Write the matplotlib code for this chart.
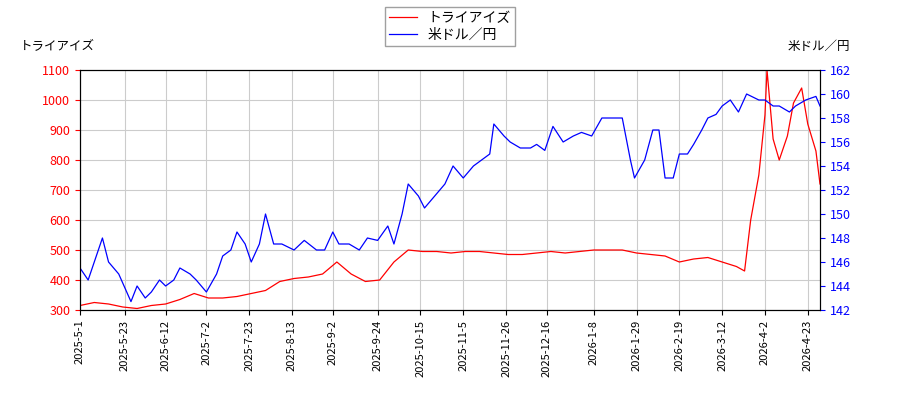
import matplotlib
matplotlib.use("Agg")
import matplotlib.pyplot as plt
import pandas as pd

plt.rcParams['font.family'] = ['Noto Sans CJK JP', 'DejaVu Sans']

red_dates = ["2025-05-01","2025-05-08","2025-05-15","2025-05-22","2025-05-29","2025-06-05","2025-06-12","2025-06-19","2025-06-26","2025-07-03","2025-07-10","2025-07-17","2025-07-24","2025-07-31","2025-08-07","2025-08-14","2025-08-21","2025-08-28","2025-09-04","2025-09-11","2025-09-18","2025-09-25","2025-10-02","2025-10-09","2025-10-16","2025-10-23","2025-10-30","2025-11-06","2025-11-13","2025-11-20","2025-11-27","2025-12-04","2025-12-11","2025-12-18","2025-12-25","2026-01-01","2026-01-08","2026-01-15","2026-01-22","2026-01-29","2026-02-05","2026-02-12","2026-02-19","2026-02-26","2026-03-05","2026-03-12","2026-03-19","2026-03-23","2026-03-26","2026-03-30","2026-04-02","2026-04-03","2026-04-06","2026-04-09","2026-04-13","2026-04-16","2026-04-20","2026-04-23","2026-04-27","2026-04-29"]
red_vals = [315,325,320,310,305,315,320,335,355,340,340,345,355,365,395,405,410,420,460,420,395,400,460,500,495,495,490,495,495,490,485,485,490,495,490,495,500,500,500,490,485,480,460,470,475,460,445,430,600,750,950,1100,870,800,880,990,1040,920,830,720]

blue_dates = ["2025-05-01","2025-05-05","2025-05-08","2025-05-12","2025-05-15","2025-05-20","2025-05-26","2025-05-29","2025-06-02","2025-06-05","2025-06-09","2025-06-12","2025-06-16","2025-06-19","2025-06-24","2025-06-27","2025-07-02","2025-07-07","2025-07-10","2025-07-14","2025-07-17","2025-07-21","2025-07-24","2025-07-28","2025-07-31","2025-08-04","2025-08-08","2025-08-14","2025-08-19","2025-08-25","2025-08-29","2025-09-02","2025-09-05","2025-09-10","2025-09-15","2025-09-19","2025-09-24","2025-09-29","2025-10-02","2025-10-06","2025-10-09","2025-10-14","2025-10-17","2025-10-22","2025-10-27","2025-10-31","2025-11-05","2025-11-10","2025-11-14","2025-11-18","2025-11-20","2025-11-25","2025-11-28","2025-12-03","2025-12-08","2025-12-11","2025-12-15","2025-12-19","2025-12-24","2025-12-29","2026-01-02","2026-01-07","2026-01-12","2026-01-16","2026-01-22","2026-01-26","2026-01-28","2026-02-02","2026-02-06","2026-02-09","2026-02-12","2026-02-16","2026-02-19","2026-02-23","2026-02-26","2026-03-02","2026-03-05","2026-03-09","2026-03-12","2026-03-16","2026-03-20","2026-03-24","2026-03-30","2026-04-02","2026-04-06","2026-04-09","2026-04-14","2026-04-17","2026-04-22","2026-04-27","2026-04-29"]
blue_vals = [145.5,144.5,146,148,146,145,142.7,144,143,143.5,144.5,144,144.5,145.5,145,144.5,143.5,145,146.5,147,148.5,147.5,146,147.5,150,147.5,147.5,147,147.8,147,147,148.5,147.5,147.5,147,148,147.8,149,147.5,150,152.5,151.5,150.5,151.5,152.5,154,153,154,154.5,155,157.5,156.5,156,155.5,155.5,155.8,155.3,157.3,156,156.5,156.8,156.5,158,158,158,154.5,153,154.5,157,157,153,153,155,155,155.8,157,158,158.3,159,159.5,158.5,160,159.5,159.5,159,159,158.5,159,159.5,159.8,159]

ticks = ["2025-05-01","2025-05-23","2025-06-12","2025-07-02","2025-07-23","2025-08-13","2025-09-02","2025-09-24","2025-10-15","2025-11-05","2025-11-26","2025-12-16","2026-01-08","2026-01-29","2026-02-19","2026-03-12","2026-04-02","2026-04-23"]
tick_labels = ["2025-5-1","2025-5-23","2025-6-12","2025-7-2","2025-7-23","2025-8-13","2025-9-2","2025-9-24","2025-10-15","2025-11-5","2025-11-26","2025-12-16","2026-1-8","2026-1-29","2026-2-19","2026-3-12","2026-4-2","2026-4-23"]

fig = plt.figure(figsize=(9, 4), dpi=100)
ax = fig.add_axes([80/900, 90/400, 740/900, 240/400])
ax2 = ax.twinx()
l1, = ax.plot(pd.to_datetime(red_dates), red_vals, color='red', lw=0.9, label='トライアイズ')
l2, = ax2.plot(pd.to_datetime(blue_dates), blue_vals, color='blue', lw=0.9, label='米ドル／円')
ax.set_ylim(300, 1100)
ax.set_yticks(range(300, 1101, 100))
ax2.set_ylim(142, 162)
ax2.set_yticks(range(142, 163, 2))
ax.set_xlim(pd.Timestamp("2025-05-01"), pd.Timestamp("2026-04-29"))
ax.set_xticks(pd.to_datetime(ticks))
ax.set_xticklabels(tick_labels, rotation=90)
ax.grid(True, color='#cccccc', lw=0.8)
ax.tick_params(axis='y', colors='red', labelsize=9)
ax2.tick_params(axis='y', colors='blue', labelsize=9)
ax.tick_params(axis='x', labelsize=8)
for t in ax.get_xticklabels(): t.set_color('black')
fig.text(20/900, 1 - 46/400, 'トライアイズ', fontsize=9, va='center')
fig.text(850/900, 1 - 46/400, '米ドル／円', fontsize=9, va='center', ha='right')
fig.legend(handles=[l1, l2], loc='upper center', bbox_to_anchor=(0.5, 1.0), fontsize=10,
           fancybox=False, edgecolor='#888888', borderpad=0.3, labelspacing=0.2)
fig.savefig('out.png')
